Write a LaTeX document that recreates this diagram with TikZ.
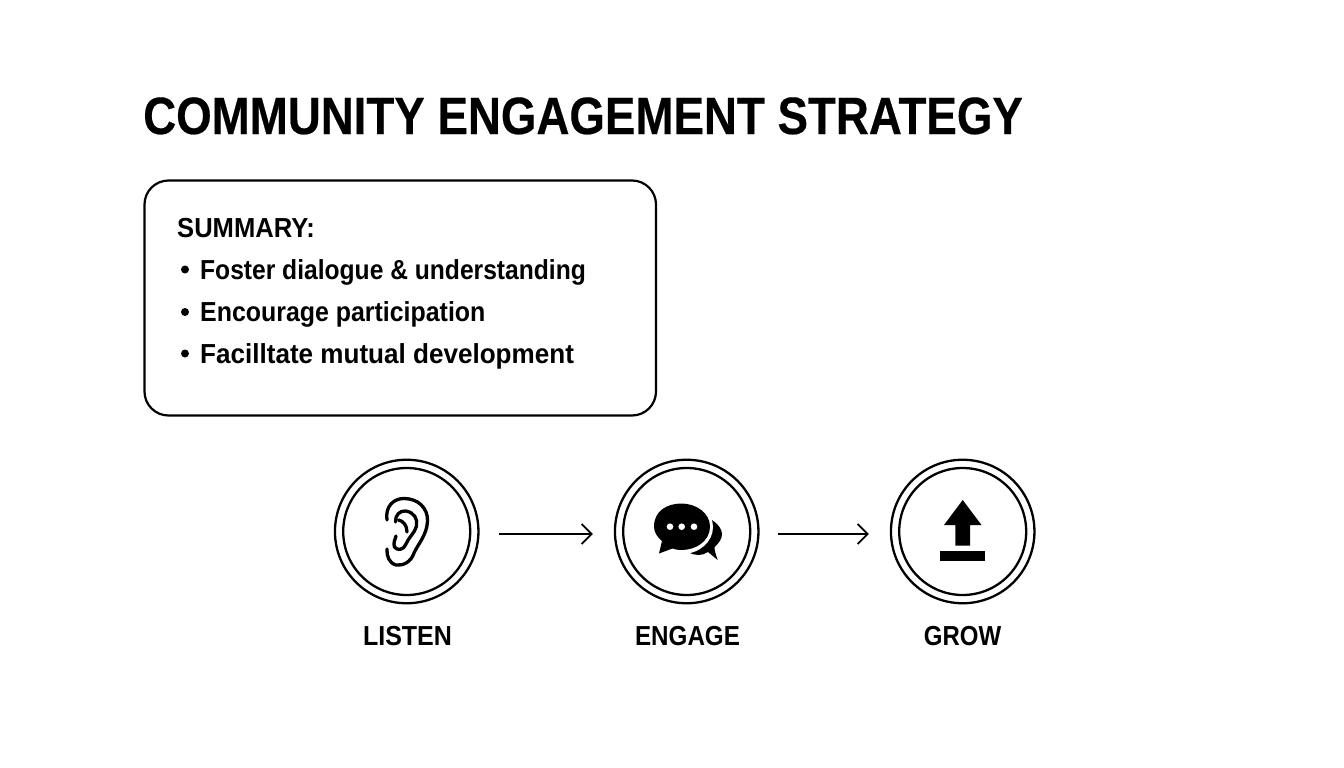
\documentclass[tikz,border=0pt]{standalone}
\usepackage{fontspec}
\setmainfont{Liberation Sans}
\usetikzlibrary{calc,arrows.meta}
\newcommand\stretchfont[1]{\fontspec{Liberation Sans}[FakeStretch=#1]\bfseries}
\newfontfamily\headfont{Liberation Sans}[FakeStretch=0.87,BoldFeatures={FakeBold=0.35}]
\tikzset{
  x=1pt,y=-1pt,
  ring/.style={circle,draw=black,line width=2.3pt,minimum size=143.5pt,inner sep=0pt,outer sep=0pt},
  innerring/.style={circle,draw=black,line width=2.3pt,minimum size=127pt,inner sep=0pt},
  steplabel/.style={font=\fontsize{27.5}{32}\selectfont,anchor=base},
  conn/.style={line width=1.8pt,-{Straight Barb[length=10pt,width=20pt,line width=1.8pt]}},
  sumline/.style={font=\fontsize{27.5}{32}\selectfont,anchor=base west,inner sep=0pt},
  earline/.style={line width=3.3pt,line cap=round,line join=round,draw=black},
  bulletdot/.style={circle,fill=black,draw=none,minimum size=8pt,inner sep=0pt,outer sep=0pt}
}
\begin{document}
\begin{tikzpicture}
\useasboundingbox (0,0) rectangle (1344,768);
\fill[white] (0,0) rectangle (1344,768);
\node[font=\fontsize{52.5}{60}\headfont\bfseries,anchor=base west,inner sep=0pt] (title) at (143,134) {COMMUNITY ENGAGEMENT STRATEGY};
\draw[line width=2.2pt,rounded corners=24pt] (144.5,180.5) rectangle (656,415.5);
\node[sumline] (s0) at (177,237) {\stretchfont{0.93}SUMMARY:};
\node[bulletdot] (b1) at (185,269.5) {};
\node[sumline] (s1) at (200,279) {\stretchfont{0.895}Foster dialogue \& understanding};
\node[bulletdot] (b2) at (185,312) {};
\node[sumline] (s2) at (200,321) {\stretchfont{0.906}Encourage participation};
\node[bulletdot] (b3) at (185,353.5) {};
\node[sumline] (s3) at (200,363) {\stretchfont{0.948}Facilltate mutual development};
\node[ring] (listen) at (406.7,531.5) {};
\node[innerring] at (listen.center) {};
\node[ring] (engage) at (686.7,531.5) {};
\node[innerring] at (engage.center) {};
\node[ring] (grow) at (962.7,531.5) {};
\node[innerring] at (grow.center) {};
\draw[conn] ($(listen.east)+(20.5,2.5)$) -- ($(engage.west)+(-22,2.5)$);
\draw[conn] ($(engage.east)+(20,2.5)$) -- ($(grow.west)+(-22,2.5)$);
\node[steplabel] (l1) at (407.5,645) {\stretchfont{0.91}LISTEN};
\node[steplabel] (l2) at (687.5,645) {\stretchfont{0.88}ENGAGE};
\node[steplabel] (l3) at (962.5,645) {\stretchfont{0.873}GROW};
% ear
\draw[earline] (387,520) .. controls (385,507) and (393,498.5) .. (404,498.5) .. controls (418,498.5) and (428,508) .. (427.5,521) .. controls (427,535) and (418,544) .. (414,553) .. controls (411,562) and (403,566) .. (396,565) .. controls (389,563) and (386.5,556) .. (387,549);
\draw[earline] (395.5,522) .. controls (395,515) and (400,510.5) .. (405.5,511) .. controls (414,512) and (418,519) .. (416.5,526) .. controls (415,533) and (408,538) .. (406,544) .. controls (404,550) and (397,551) .. (394.5,547) .. controls (393,543) and (395,540) .. (396,536);
\draw[earline] (398.5,520) .. controls (403,521) and (407,525) .. (407,532);
% chat
\fill[black] (688,552) .. controls (695,556) and (702,556) .. (708,552) -- (717.7,560) .. controls (716,555) and (714.5,551) .. (714.5,547) .. controls (719,543) and (722,539) .. (722,534) .. controls (722,529) and (718,524) .. (712,520) -- (695,530) -- cycle;
\fill[white] (682,527) ellipse [x radius=31,y radius=27];
\fill[black] (654,526.5) .. controls (654,511) and (667,503.5) .. (681.5,503.5) .. controls (696,503.5) and (710,513) .. (710,526.5) .. controls (710,541) and (696,550) .. (681.5,550) .. controls (678,550) and (675,549.5) .. (672.5,548.5) -- (659,553.5) -- (662,541) .. controls (657,537) and (654,532) .. (654,526.5) -- cycle;
\foreach \xx in {670,681.7,694} \fill[white] (\xx,526.7) circle (3.3);
% upload
\fill[black] (962.7,500) -- (981.5,525) -- (970,525) -- (970,545.7) -- (955.3,545.7) -- (955.3,525) -- (944,525) -- cycle;
\fill[black] (940.3,551) rectangle (984.7,560.7);
\end{tikzpicture}
\end{document}
